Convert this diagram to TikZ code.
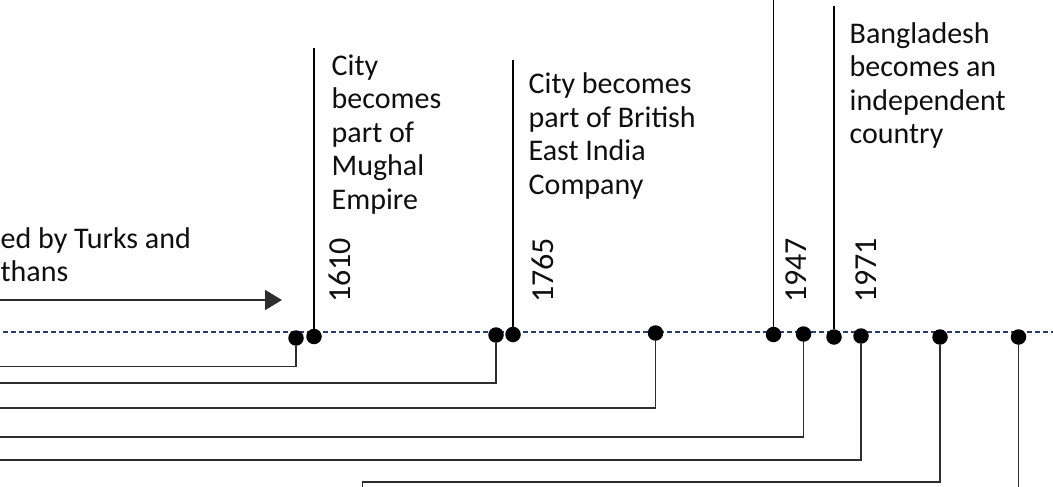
\documentclass[tikz,border=0pt]{standalone}
\usepackage{fontspec}
\setmainfont{Carlito}
\usetikzlibrary{arrows.meta}
\definecolor{axisblue}{RGB}{40,62,110}
\definecolor{linegray}{RGB}{45,45,45}
\definecolor{txt}{RGB}{15,15,15}
\begin{document}
\begin{tikzpicture}[x=1pt,y=-1pt,
  dot/.style={circle,fill=black,draw=none,minimum size=15.5pt,inner sep=0pt},
  axis/.style={draw=axisblue,line width=2pt,dash pattern=on 4.5pt off 3.5pt},
  upline/.style={draw=black,line width=1.7pt},
  downline/.style={draw=linegray,line width=1.8pt},
  label/.style={align=left,inner sep=0pt,anchor=base west,text=txt,font=\fontsize{30}{33.6}\selectfont},
  year/.style={rotate=90,anchor=west,inner sep=0pt,text=txt,font=\fontsize{32}{36}\selectfont}]
\useasboundingbox (0,0) rectangle (1053,487);
\begin{scope}
\clip (0,0) rectangle (1053,487);
% timeline axis
\coordinate (axL) at (-5,332);
\coordinate (axR) at (1058,332);
\draw[axis] (axL) -- (axR);
% event dots
\node[dot] (A) at (296,338) {};
\node[dot] (B) at (314,336.5) {};
\node[dot] (C) at (496,335) {};
\node[dot] (D) at (513,334.5) {};
\node[dot] (E) at (655.5,333) {};
\node[dot] (F) at (773.5,334.5) {};
\node[dot] (G) at (803.5,334) {};
\node[dot] (H) at (834,337) {};
\node[dot] (I) at (861,336) {};
\node[dot] (J) at (940,337) {};
\node[dot] (K) at (1018.5,337) {};
% connector ends
\coordinate (Btop) at (314,48.5);
\coordinate (Dtop) at (513,60.5);
\coordinate (Ftop) at (773.5,-5);
\coordinate (Htop) at (834,6);
\coordinate (Aend) at (-5,366.5);
\coordinate (Cend) at (-5,383);
\coordinate (Eend) at (-5,408);
\coordinate (Gend) at (-5,437);
\coordinate (Iend) at (-5,460);
\coordinate (Jc) at (362.5,482.3);
\coordinate (Jend) at (362.5,495);
\coordinate (Kend) at (1018.5,495);
% upward connectors
\draw[upline] (B) -- (Btop);
\draw[upline] (D) -- (Dtop);
\draw[upline] (F) -- (Ftop);
\draw[upline] (H) -- (Htop);
% downward connectors
\draw[downline] (A) |- (Aend);
\draw[downline] (C) |- (Cend);
\draw[downline] (E) |- (Eend);
\draw[downline] (G) |- (Gend);
\draw[downline] (I) |- (Iend);
\draw[downline] (J) |- (Jc) -- (Jend);
\draw[downline] (K) -- (Kend);
% period arrow
\coordinate (arrL) at (-5,300);
\coordinate (arrR) at (282,300);
\draw[downline,-{Triangle[length=17pt,width=20pt]}] (arrL) -- (arrR);
% labels (anchored at the baseline of the last line)
\node[label] (tturks) at (0.5,281.8) {ed by Turks and\\thans};
\node[label] (tmughal) at (331.5,209.4) {City\\becomes\\part of\\Mughal\\Empire};
\node[label] (tbritish) at (528.5,194.5) {City becomes\\part of British\\East India\\Company};
\node[label] (tbangla) at (849.5,143.8) {Bangladesh\\becomes an\\independent\\country};
% years
\node[year] (y1610) at (339.5,303) {1610};
\node[year] (y1765) at (542.5,303) {1765};
\node[year] (y1947) at (796,303) {1947};
\node[year] (y1971) at (866,303) {1971};
\end{scope}
\end{tikzpicture}
\end{document}
